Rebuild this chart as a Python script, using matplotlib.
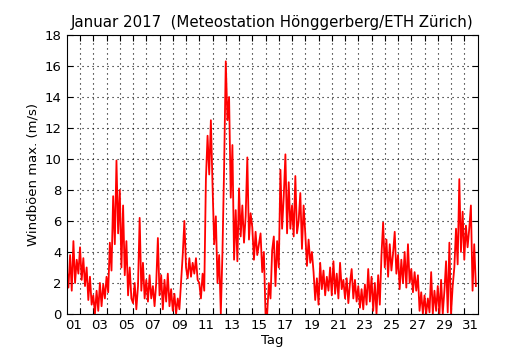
import numpy as np
import matplotlib
matplotlib.use("Agg")
import matplotlib.pyplot as plt

# Windböen max. (m/s), 8 readings per day (every 3 h)
days_01_07 = [
    2.9, 1.7, 3.8, 1.5, 4.7, 2.0, 3.5, 2.6,
    4.3, 2.2, 3.6, 1.8, 3.0, 0.9, 2.4, 0.6,
    1.2, 0.0, 1.5, 0.2, 2.0, 0.5, 1.9, 1.0,
    2.4, 1.4, 4.6, 2.8, 7.6, 4.5, 9.9, 5.2,
    8.0, 3.0, 7.0, 2.5, 4.7, 1.2, 3.0, 1.0,
    0.7, 2.0, 0.3, 1.8, 6.2, 1.5, 3.3, 1.0,
    2.2, 0.8, 2.5, 1.0, 1.8, 0.5, 2.0, 4.9,
]
days_08_14 = [
    1.2, 2.5, 0.3, 2.2, 0.8, 2.6, 0.5, 1.6,
    0.2, 1.3, 0.0, 1.0, 0.3, 2.0, 3.8, 6.0,
    3.0, 2.3, 3.6, 2.4, 3.3, 2.6, 3.6, 2.2,
    2.0, 1.0, 2.6, 1.5, 8.7, 11.5, 9.0, 12.5,
    8.3, 4.5, 6.3, 2.0, 3.8, 0.0, 4.0, 9.5,
    16.3, 12.5, 14.0, 7.5, 10.9, 3.5, 6.7, 3.4,
    8.1, 5.0, 7.0, 4.6, 6.3, 10.1, 4.8, 6.5,
]
days_15_21 = [
    5.6, 3.5, 5.3, 3.8, 4.5, 5.2, 2.7, 4.0,
    0.0, 0.0, 2.0, 1.0, 4.1, 5.0, 1.8, 4.7,
    3.0, 9.3, 5.5, 7.6, 10.3, 5.2, 8.5, 5.5,
    7.0, 5.0, 8.9, 5.2, 6.0, 7.8, 4.2, 7.0,
    5.2, 3.1, 4.8, 3.3, 4.0, 2.7, 0.9, 2.3,
    0.6, 3.3, 1.6, 2.8, 1.2, 2.4, 1.5, 3.0,
    1.2, 3.4, 1.3, 2.6, 1.0, 3.3, 1.6, 2.2,
]
days_22_31 = [
    1.0, 2.3, 0.7, 2.0, 2.9, 1.0, 2.2, 0.8,
    1.8, 0.4, 1.6, 0.3, 1.9, 0.6, 2.9, 0.8,
    2.4, 0.2, 2.0, 0.0, 2.5, 0.6, 3.8, 5.9,
    3.0, 4.8, 2.4, 4.5, 2.8, 3.9, 5.3, 2.6,
    3.8, 1.6, 3.5, 2.0, 4.0, 1.7, 4.5, 2.0,
    2.9, 1.4, 2.7, 1.5, 2.5, 0.2, 1.4, 0.0,
    1.2, 0.0, 1.0, 0.1, 2.7, 0.0, 1.5, 0.2,
    1.8, 0.0, 2.2, 0.0, 1.5, 3.4, 0.1, 4.6,
    0.0, 1.8, 3.0, 5.5, 3.2, 8.7, 4.0, 6.6,
    3.5, 5.7, 4.3, 5.5, 7.0, 1.5, 4.5, 1.8,
]
gusts = np.array(days_01_07 + days_08_14 + days_15_21 + days_22_31)
t = np.arange(len(gusts)) / 8.0          # days since 1 Jan 00:00

day_labels = [f"{d:02d}" for d in range(1, 32, 2)]

fig = plt.figure(figsize=(5.3, 3.5), dpi=100)
ax = fig.add_axes([0.126, 0.103, 0.775, 0.797])

ax.plot(t, gusts, color="red", lw=1.3)

ax.set_xlim(0, 31)
ax.set_ylim(0, 18)
ax.set_xticks(np.arange(1, 31))
ax.set_xticklabels([])
ax.set_xticks(np.arange(0.5, 31, 2), minor=True)
ax.set_xticklabels(day_labels, minor=True)
ax.set_yticks(np.arange(0, 19, 2))

ax.tick_params(which="major", direction="in", length=4, top=True, right=True,
               labelsize=9.5)
ax.tick_params(which="minor", length=0, labelsize=9.5)
ax.grid(True, which="major", color="black", ls=(0, (1, 3.5)), lw=0.8)

ax.set_xlabel("Tag", fontsize=9.5, labelpad=2)
ax.set_ylabel("Windböen max. (m/s)", fontsize=9.5)
ax.set_title("Januar 2017  (Meteostation Hönggerberg/ETH Zürich)", fontsize=10.8)

fig.savefig("out.png", dpi=100)
